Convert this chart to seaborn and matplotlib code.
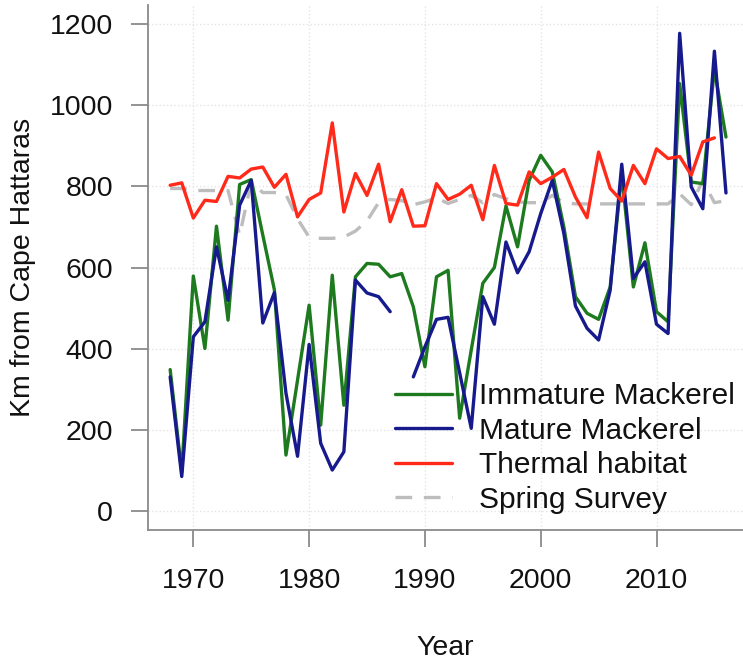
import numpy as np
import pandas as pd
import matplotlib.pyplot as plt
import seaborn as sns

# ---- data ----
years = list(range(1968, 2017))

immature = [348, 95, 579, 400, 702, 470, 805, 817, 680, 545,
            137, 322, 507, 211, 581, 260, 577, 610, 608, 577,
            585, 503, 355, 577, 593, 228, 396, 561, 600, 752,
            651, 815, 877, 836, 700, 528, 487, 472, 552, 830,
            552, 661, 491, 466, 1054, 811, 807, 1090, 922]

mature = [330, 84, 429, 466, 651, 519, 754, 815, 463, 538,
          290, 134, 410, 166, 100, 145, 569, 537, 528, 491,
          np.nan, 330, 404, 472, 477, 340, 203, 528, 460, 663,
          587, 639, 733, 815, 684, 505, 450, 421, 544, 855,
          573, 614, 460, 437, 1178, 799, 745, 1134, 784]

thermal_years = list(range(1968, 2016))
thermal = [803, 809, 722, 766, 763, 825, 821, 843, 848, 798,
           830, 725, 768, 784, 957, 737, 832, 778, 855, 713,
           792, 702, 703, 807, 768, 781, 803, 718, 852, 758,
           754, 836, 807, 823, 842, 774, 723, 885, 795, 764,
           852, 807, 893, 869, 874, 828, 910, 920]

spring = [795, 795, 790, 790, 790, 790, 680, 810, 785, 785,
          780, 720, 675, 672, 672, 675, 690, 715, 760, 768,
          765, 755, 762, 772, 758, 768, 778, 760, 780, 770,
          762, 760, 760, 778, 760, 757, 757, 757, 757, 757,
          757, 757, 757, 757, 782, 755, 815, 760, 765]

df = pd.DataFrame({"year": years, "immature": immature,
                   "mature": mature, "spring": spring})
df_t = pd.DataFrame({"year": thermal_years, "thermal": thermal})

# mature series has a gap in 1988 -> draw as two pieces
m1 = df[df["year"] < 1988]
m2 = df[df["year"] > 1988]

sns.set_style("white")
plt.rcParams["font.family"] = ["Liberation Sans", "DejaVu Sans"]
plt.rcParams["text.color"] = "#111111"
plt.rcParams["axes.labelcolor"] = "#111111"
plt.rcParams["xtick.labelcolor"] = "#111111"
plt.rcParams["ytick.labelcolor"] = "#111111"

fig = plt.figure(figsize=(7.43, 6.62), dpi=100)
ax = fig.add_axes([147.7 / 743, 132 / 662, 1 - 147.7 / 743, 1 - 137 / 662])

lw = 2.4
sns.lineplot(data=df, x="year", y="spring", ax=ax, color="#bdbdbd", lw=lw,
             ls=(0, (5, 3.5)), label="Spring Survey")
sns.lineplot(data=df, x="year", y="immature", ax=ax, color="#1e7a1e", lw=lw,
             label="Immature Mackerel")
sns.lineplot(data=m1, x="year", y="mature", ax=ax, color="#161a8c", lw=lw,
             label="Mature Mackerel")
sns.lineplot(data=m2, x="year", y="mature", ax=ax, color="#161a8c", lw=lw,
             label="_nolegend_")
sns.lineplot(data=df_t, x="year", y="thermal", ax=ax, color="#ff2a1a", lw=lw,
             label="Thermal habitat")

ax.set_xlim(1966.06, 2017.47)
ax.set_ylim(-48, 1248)
ax.set_xticks([1970, 1980, 1990, 2000, 2010])
ax.set_yticks([0, 200, 400, 600, 800, 1000, 1200])

ax.grid(True, color="#e4e4e4", ls=":", lw=1)
for s in ["top", "right"]:
    ax.spines[s].set_visible(False)
for s in ["left", "bottom"]:
    ax.spines[s].set_color("#8a8a8a")
    ax.spines[s].set_linewidth(1.3)

ax.tick_params(axis="both", length=12, width=1.3, color="#8a8a8a",
               labelsize=20.5, direction="out", bottom=True, left=True)
ax.tick_params(axis="x", pad=15)
ax.tick_params(axis="y", pad=13)
ax.set_xlabel("Year", fontsize=20.5, labelpad=30)
ax.set_ylabel("Km from Cape Hattaras", fontsize=20.5, labelpad=10)

# legend in the same order as the reference
handles, labels = ax.get_legend_handles_labels()
order = ["Immature Mackerel", "Mature Mackerel", "Thermal habitat", "Spring Survey"]
hmap = dict(zip(labels, handles))
ax.legend([hmap[k] for k in order], order, frameon=False, fontsize=21.5,
          loc="upper left", bbox_to_anchor=(395 / 743, 1 - 382 / 662),
          bbox_transform=fig.transFigure, borderpad=0, borderaxespad=0,
          handlelength=1.9, handletextpad=0.9, labelspacing=0.22)

fig.savefig("out.png", dpi=100)
